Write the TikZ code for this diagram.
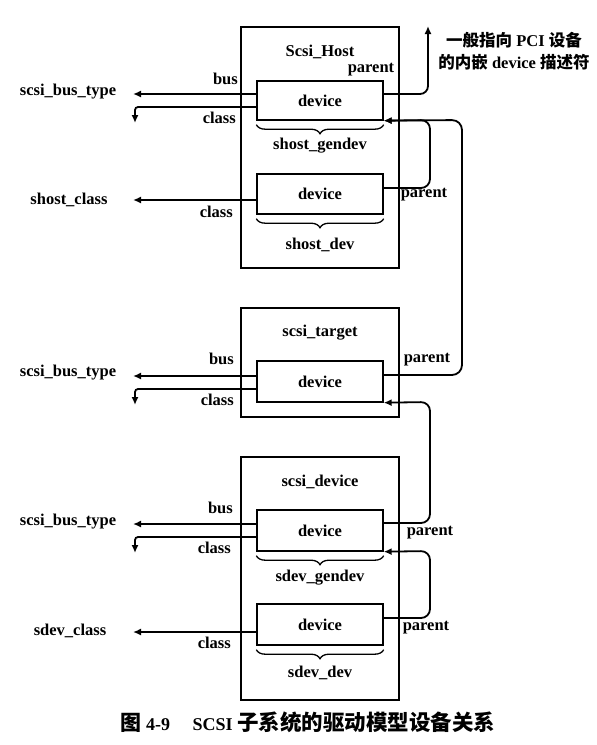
\documentclass[tikz,border=0pt]{standalone}
\usepackage{fontspec}
\setmainfont{Liberation Serif}
\newfontfamily\cjk{Noto Sans CJK SC}
\usetikzlibrary{arrows.meta,decorations.pathreplacing,calc}
\begin{document}
\begin{tikzpicture}[x=1pt,y=-1pt,
  font=\bfseries\fontsize{16.5}{19}\selectfont,
  outer/.style={draw, line width=1.3pt, minimum width=158pt, inner sep=0pt},
  dev/.style={draw, line width=1.4pt, minimum width=126pt, inner sep=0pt},
  arr/.style={line width=1.8pt, -{Latex[length=8pt,width=7pt]}},
  brc/.style={decorate, decoration={brace, mirror, amplitude=9pt, raise=0pt}, line width=1.3pt},
  lbl/.style={inner sep=0pt}]
\useasboundingbox (0,0) rectangle (597,745);
\fill[white] (0,0) rectangle (597,745);

% outer boxes
\node[outer, minimum height=241pt] (host) at (320,147.5) {};
\node[outer, minimum height=109pt] (target) at (320,362.5) {};
\node[outer, minimum height=243pt] (sdev) at (320,578.5) {};

\node[lbl] (thost) at (320,52) {Scsi\_Host};
\node[lbl] (ttarget) at (320,333) {scsi\_target};
\node[lbl] (tsdev) at (320,482) {scsi\_device};

% device boxes
\node[dev, minimum height=39pt] (hd1) at (320,100.5) {device};
\node[dev, minimum height=40pt] (hd2) at (320,194) {device};
\node[dev, minimum height=41pt] (td) at (320,381.5) {device};
\node[dev, minimum height=41pt] (sd1) at (320,530.5) {device};
\node[dev, minimum height=41pt] (sd2) at (320,624.5) {device};

% braces
\draw[brc] ($(hd1.south west)+(0,4)$) -- ($(hd1.south east)+(0,4)$);
\draw[brc] ($(hd2.south west)+(0,4)$) -- ($(hd2.south east)+(0,4)$);
\draw[brc] ($(sd1.south west)+(0,4)$) -- ($(sd1.south east)+(0,4)$);
\draw[brc] ($(sd2.south west)+(0,4)$) -- ($(sd2.south east)+(0,4)$);
\node[lbl] (bhd1) at (320,146) {shost\_gendev};
\node[lbl] (bhd2) at (320,245) {shost\_dev};
\node[lbl] (bsd1) at (320,578) {sdev\_gendev};
\node[lbl] (bsd2) at (320,673) {sdev\_dev};

% left targets
\node[lbl] (bt1) at (68,92) {scsi\_bus\_type};
\node[lbl] (scls) at (69,200) {shost\_class};
\node[lbl] (bt2) at (68,373) {scsi\_bus\_type};
\node[lbl] (bt3) at (68,522) {scsi\_bus\_type};
\node[lbl] (dcls) at (70,631) {sdev\_class};

% left arrows: host device 1
\coordinate (a1) at (133,94);
\coordinate (c1) at (135,107);
\coordinate (c1e) at (135,123);
\draw[arr] (hd1.west |- a1) -- (a1);
\draw[arr, rounded corners=3pt] (hd1.west |- c1) -- (c1) -- (c1e);
\node[lbl, anchor=east] (lb1) at (238,79) {bus};
\node[lbl, anchor=east] (lc1) at (236,118) {class};

% host device 2
\coordinate (a2) at (133,200);
\draw[arr] (hd2.west |- a2) -- (a2);
\node[lbl, anchor=east] (lc2) at (233,212) {class};

% target
\coordinate (a3) at (133,376);
\coordinate (c3) at (135,389);
\coordinate (c3e) at (135,405);
\draw[arr] (td.west |- a3) -- (a3);
\draw[arr, rounded corners=3pt] (td.west |- c3) -- (c3) -- (c3e);
\node[lbl, anchor=east] (lb3) at (234,359) {bus};
\node[lbl, anchor=east] (lc3) at (234,400) {class};

% scsi device 1
\coordinate (a4) at (133,524);
\coordinate (c4) at (135,537);
\coordinate (c4e) at (135,553);
\draw[arr] (sd1.west |- a4) -- (a4);
\draw[arr, rounded corners=3pt] (sd1.west |- c4) -- (c4) -- (c4e);
\node[lbl, anchor=east] (lb4) at (233,508) {bus};
\node[lbl, anchor=east] (lc4) at (231,548) {class};

% scsi device 2
\coordinate (a5) at (133,632);
\draw[arr] (sd2.west |- a5) -- (a5);
\node[lbl, anchor=east] (lc5) at (231,643) {class};

% parent arrows
\coordinate (p1) at (428,94);
\coordinate (p1t) at (428,26);
\draw[arr, rounded corners=8pt] (hd1.east |- p1) -- (p1) -- (p1t);
\node[lbl] (lp1) at (371,70) {parent};
\node[lbl, align=center, font=\bfseries\fontsize{16.5}{22}\selectfont] (note) at (514,51)
  {{\cjk 一般指向} PCI {\cjk 设备}\\{\cjk 的内嵌} device {\cjk 描述符}};

\coordinate (q1) at (430,188);
\coordinate (q2) at (430,120);
\draw[arr, rounded corners=9pt] (hd2.east |- q1) -- (q1) -- (q2) -- (hd1.south east);
\node[lbl] (lp2) at (424,195) {parent};

\coordinate (r1) at (462,375);
\coordinate (r2) at (462,120);
\draw[arr, rounded corners=10pt] (td.east |- r1) -- (r1) -- (r2) -- (hd1.south east);
\node[lbl] (lp3) at (427,360) {parent};

\coordinate (s1) at (430,523);
\coordinate (s2) at (430,402);
\draw[arr, rounded corners=9pt] (sd1.east |- s1) -- (s1) -- (s2) -- (td.south east);
\node[lbl] (lp4) at (430,533) {parent};

\coordinate (u1) at (430,618);
\coordinate (u2) at (430,551);
\draw[arr, rounded corners=9pt] (sd2.east |- u1) -- (u1) -- (u2) -- (sd1.south east);
\node[lbl] (lp5) at (426,628) {parent};

% caption
\node[lbl, font=\bfseries\fontsize{18}{20}\selectfont] (cap) at (308,722)
  {{\cjk\fontsize{21}{20}\selectfont 图} 4-9\quad\ SCSI {\cjk\fontsize{21.5}{20}\selectfont 子系统的驱动模型设备关系}};
\end{tikzpicture}
\end{document}
